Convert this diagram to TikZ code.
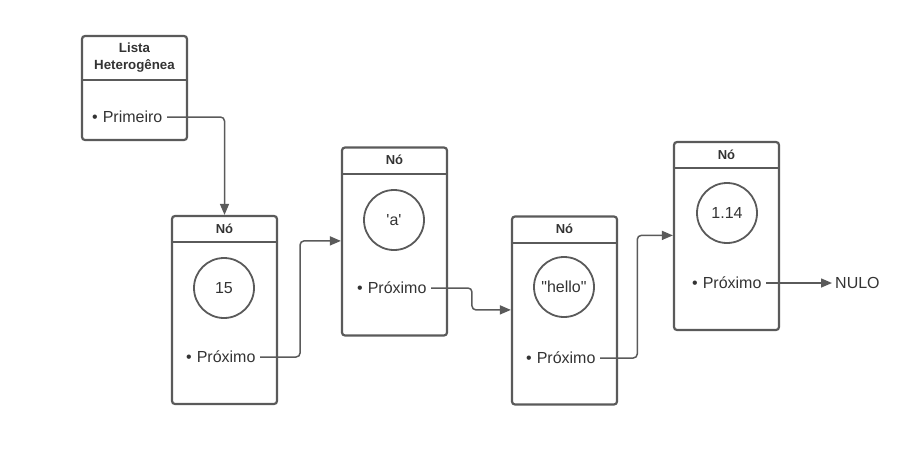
\documentclass[tikz,border=0pt]{standalone}
\usepackage{fontspec}
\setmainfont{Liberation Sans}
\usetikzlibrary{arrows.meta,calc}
\definecolor{linha}{HTML}{5A5A5A}
\definecolor{texto}{HTML}{333333}

\begin{document}
\begin{tikzpicture}[x=1pt, y=-1pt]

\tikzset{
  box/.style={minimum width=105pt, minimum height=188pt, inner sep=0pt, draw=linha, line width=2.2pt, rounded corners=3pt},
  cab/.style={minimum width=105pt, minimum height=27pt, inner sep=0pt, anchor=north, text=texto, font=\fontsize{13}{16}\selectfont\bfseries},
  div/.style={draw=linha, line width=2pt},
  circ/.style={circle, minimum size=60pt, inner sep=0pt, draw=linha, line width=1.8pt, text=texto, font=\fontsize{16}{19}\selectfont},
  item/.style={anchor=west, inner sep=4.5pt, text=texto, font=\fontsize{16}{19}\selectfont},
  boxedg/.style={draw=linha, line width=1.5pt, rounded corners=4pt, -{Triangle[length=11pt,width=9pt]}},
}

\useasboundingbox (0,0) rectangle (914,461);

\node[box,name=lista,minimum height=104pt] at (134.5,88) {};
\node[cab,name=cab0,minimum height=45pt,align=center,font=\fontsize{13.3}{17}\selectfont\bfseries] at (lista.north) {Lista\\Heterogênea};
\draw[div] (cab0.south -| lista.west) -- (cab0.south -| lista.east);
\node[item,name=prim] at (87.5,117) {\textbullet\hspace{5pt}Primeiro};

\node[box,name=no1] at (224.5,310) {};
\node[cab,name=cab1] at (no1.north) {Nó};
\draw[div] (cab1.south -| no1.west) -- (cab1.south -| no1.east);
\node[circ,name=val1] at (224,288) {15};
\node[item,name=prox1] at (181.5,357) {\textbullet\hspace{5pt}Próximo};

\node[box,name=no2] at (394.5,241.5) {};
\node[cab,name=cab2] at (no2.north) {Nó};
\draw[div] (cab2.south -| no2.west) -- (cab2.south -| no2.east);
\node[circ,name=val2] at (394,220) {\textquotesingle a\textquotesingle};
\node[item,name=prox2] at (352.5,288) {\textbullet\hspace{5pt}Próximo};

\node[box,name=no3] at (564.5,310.5) {};
\node[cab,name=cab3] at (no3.north) {Nó};
\draw[div] (cab3.south -| no3.west) -- (cab3.south -| no3.east);
\node[circ,name=val3] at (564,287) {\textquotedbl hello\textquotedbl};
\node[item,name=prox3] at (521.5,358) {\textbullet\hspace{5pt}Próximo};

\node[box,name=no4] at (726.5,236) {};
\node[cab,name=cab4] at (no4.north) {Nó};
\draw[div] (cab4.south -| no4.west) -- (cab4.south -| no4.east);
\node[circ,name=val4] at (727,213) {1.14};
\node[item,name=prox4] at (687.5,283) {\textbullet\hspace{5pt}Próximo};

\node[item,name=nulo,inner sep=3pt] at (832,283) {NULO};

\coordinate (ent2) at ([yshift=-94.5pt]no2.north west);
\coordinate (ent3) at ([yshift=-94.5pt]no3.north west);
\coordinate (ent4) at ([yshift=-94.5pt]no4.north west);
\coordinate (d12) at ($(no1.east)!0.35!(no2.west)$);
\coordinate (d23) at ($(no2.east)!0.38!(no3.west)$);
\coordinate (d34) at ($(no3.east)!0.35!(no4.west)$);

\draw[boxedg] (prim.east) -| (no1.north);
\draw[boxedg] (prox1.east) -| (d12 |- ent2) -- (ent2);
\draw[boxedg] (prox2.east) -| (d23 |- ent3) -- (ent3);
\draw[boxedg] (prox3.east) -| (d34 |- ent4) -- (ent4);
\draw[boxedg] (prox4.east) -- (nulo.west);

\end{tikzpicture}
\end{document}
